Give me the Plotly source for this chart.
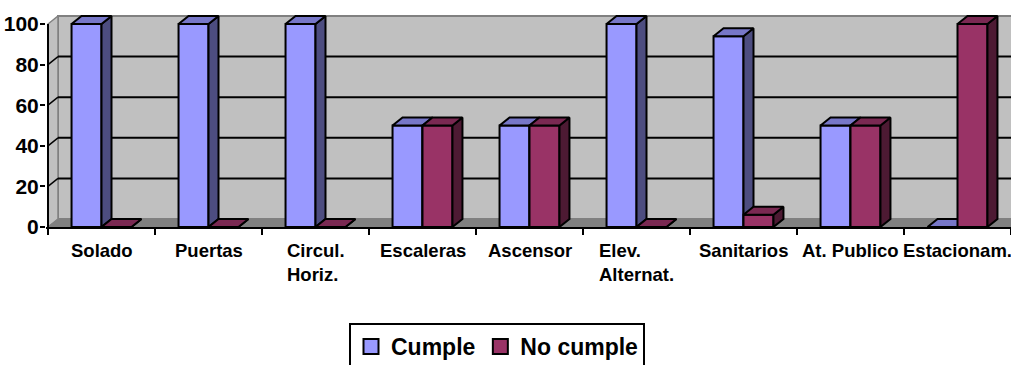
import plotly.graph_objects as go

# ---- data ----
categories = ["Solado", "Puertas", "Circul.<br>Horiz.", "Escaleras", "Ascensor",
              "Elev.<br>Alternat.", "Sanitarios", "At. Publico", "Estacionam."]
cumple = [100, 100, 100, 50, 50, 100, 94, 50, 0]
no_cumple = [0, 0, 0, 50, 50, 0, 6, 50, 100]
y_ticks = [0, 20, 40, 60, 80, 100]

# ---- geometry / style ----
W, H = 1011, 365
ML, MT, MB = 46, 15, 138
PX_X = 107.0            # pixels per category
PX_Y = 2.03             # pixels per value unit
DX = 10 / PX_X          # depth offset (x units)
DY = 8 / PX_Y           # depth offset (y units)
BAR_W = 0.28
X0 = -0.5 - (48 - ML) / PX_X
X1 = X0 + (W - ML) / PX_X
Y1 = (H - MT - MB) / PX_Y

FONT = "Liberation Sans, Arial, sans-serif"

series = [
    dict(name="Cumple", vals=cumple, off=-BAR_W,
         front="#9999FF", side="#4D4D80", top="#7777C8"),
    dict(name="No cumple", vals=no_cumple, off=0.0,
         front="#993366", side="#4D1A33", top="#7A2952"),
]

fig = go.Figure()
xs = list(range(len(categories)))

for k, s in enumerate(series):
    xa, ya = ("x", "y") if k == 0 else ("x2", "y2")
    # front faces
    fig.add_trace(go.Bar(
        x=xs, y=s["vals"], offset=s["off"], width=BAR_W,
        marker=dict(color=s["front"], line=dict(color="black", width=2)),
        name=s["name"], showlegend=False, xaxis=xa, yaxis=ya,
        hovertemplate="%{y}<extra>" + s["name"] + "</extra>"))
    # side and top faces of each column
    sx, sy, tx, ty = [], [], [], []
    for i, v in zip(xs, s["vals"]):
        l = i + s["off"]
        r = l + BAR_W
        sx += [r, r + DX, r + DX, r, r, None]
        sy += [0, DY, v + DY, v, 0, None]
        tx += [l, l + DX, r + DX, r, l, None]
        ty += [v, v + DY, v + DY, v, v, None]
    for px_, py_, col in ((sx, sy, s["side"]), (tx, ty, s["top"])):
        fig.add_trace(go.Scatter(
            x=px_, y=py_, mode="lines", fill="toself", fillcolor=col,
            line=dict(color="black", width=2), showlegend=False,
            hoverinfo="skip", xaxis=xa, yaxis=ya))

# legend swatches
for s in series:
    fig.add_trace(go.Scatter(
        x=[None], y=[None], mode="markers", name=s["name"],
        marker=dict(symbol="square", size=15, color=s["front"],
                    line=dict(color="black", width=2))))

# ---- walls, floor and gridlines ----
shapes = []
shapes.append(dict(type="rect", xref="x", yref="y", x0=-0.5 + DX, x1=X1 + 1,
                   y0=DY, y1=100 + DY, fillcolor="#C0C0C0",
                   line=dict(color="#808080", width=2), layer="below"))
shapes.append(dict(type="path", xref="x", yref="y",
                   path=f"M{-0.5},0 L{-0.5 + DX},{DY} L{-0.5 + DX},{100 + DY} L{-0.5},100 Z",
                   fillcolor="#C0C0C0", line=dict(color="#808080", width=1.5),
                   layer="below"))
shapes.append(dict(type="path", xref="x", yref="y",
                   path=f"M{-0.5},0 L{X1 + 1},0 L{X1 + 1},{DY} L{-0.5 + DX},{DY} Z",
                   fillcolor="#808080", line=dict(color="#808080", width=1),
                   layer="below"))
for v in y_ticks[1:-1]:
    shapes.append(dict(type="line", xref="x", yref="y", x0=-0.5 + DX, x1=X1 + 1,
                       y0=v + DY, y1=v + DY, line=dict(color="black", width=2),
                       layer="below"))
    shapes.append(dict(type="line", xref="x", yref="y", x0=-0.5, x1=-0.5 + DX,
                       y0=v, y1=v + DY, line=dict(color="black", width=1.5),
                       layer="below"))
# front value axis line
shapes.append(dict(type="line", xref="x", yref="y", x0=-0.5, x1=-0.5,
                   y0=0, y1=100, line=dict(color="black", width=2)))

# ---- category labels ----
annotations = []
for i, c in enumerate(categories):
    annotations.append(dict(
        x=i, y=0, xref="x", yref="paper", yanchor="top", xanchor="center",
        yshift=-11, text=c, showarrow=False, align="left",
        font=dict(family=FONT, size=18.5, color="black", weight="bold")))

fig.update_layout(
    template="none",
    width=W, height=H, autosize=False,
    margin=dict(l=ML, r=0, t=MT, b=MB, pad=0, autoexpand=False),
    paper_bgcolor="white", plot_bgcolor="white",
    barmode="overlay",
    shapes=shapes, annotations=annotations,
    xaxis=dict(range=[X0, X1], showgrid=False, zeroline=False,
               showline=True, linecolor="black", linewidth=2,
               tickmode="array", tickvals=[i - 0.5 for i in range(len(categories) + 1)],
               showticklabels=False, ticks="outside", ticklen=6,
               tickwidth=2, tickcolor="black", fixedrange=True, automargin=False),
    yaxis=dict(range=[0, Y1], showgrid=False, zeroline=False, showline=False,
               tickmode="array", tickvals=y_ticks, ticks="outside", ticklen=5,
               tickwidth=2, tickcolor="black", ticklabelstandoff=-3,
               tickfont=dict(family=FONT, size=21, color="black", weight="bold"),
               fixedrange=True, automargin=False),
    xaxis2=dict(range=[X0, X1], overlaying="x", visible=False, fixedrange=True),
    yaxis2=dict(range=[0, Y1], overlaying="y", visible=False, fixedrange=True),
    legend=dict(orientation="h", x=(349 - ML) / (W - ML), xanchor="left",
                y=-(323 - (H - MB)) / (H - MT - MB), yanchor="top",
                bordercolor="black", borderwidth=2, bgcolor="white",
                font=dict(family=FONT, size=23, color="black", weight="bold"),
                itemclick=False, itemdoubleclick=False),
    showlegend=True,
)

fig.write_html("out.html")
